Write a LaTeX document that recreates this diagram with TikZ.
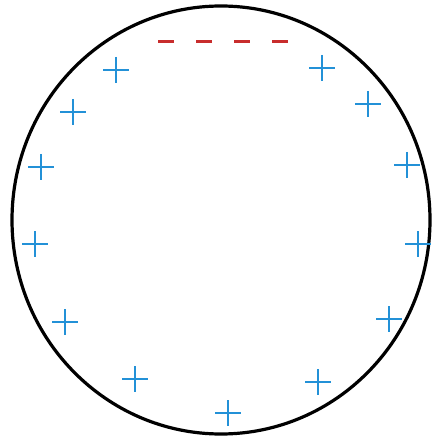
\documentclass[tikz,border=0pt]{standalone}
\definecolor{plusblue}{RGB}{35,145,215}
\definecolor{dashred}{RGB}{200,45,45}
\tikzset{
  rim/.style={draw=black, line width=3.2pt},
  plusarm/.style={draw=plusblue, line width=2.6pt},
  redline/.style={draw=dashred, line width=3.2pt, dash pattern=on 16pt off 22pt}
}
\begin{document}
\begin{tikzpicture}[x=1pt,y=-1pt]
\useasboundingbox (0,0) rectangle (434,438);
\draw[rim] (221,220) ellipse [x radius=209, y radius=214];
\draw[redline] (158,41.5) -- (290,41.5);
\foreach \px/\py in {116/70, 73/112, 41/167, 35/244, 65/322, 135/379, 228/413, 318/382, 389/319, 418/244, 407/165, 368/104, 322/68}{
  \draw[plusarm] (\px-13,\py) -- (\px+13,\py);
  \draw[plusarm] (\px,\py-13) -- (\px,\py+13);
}
\end{tikzpicture}
\end{document}
